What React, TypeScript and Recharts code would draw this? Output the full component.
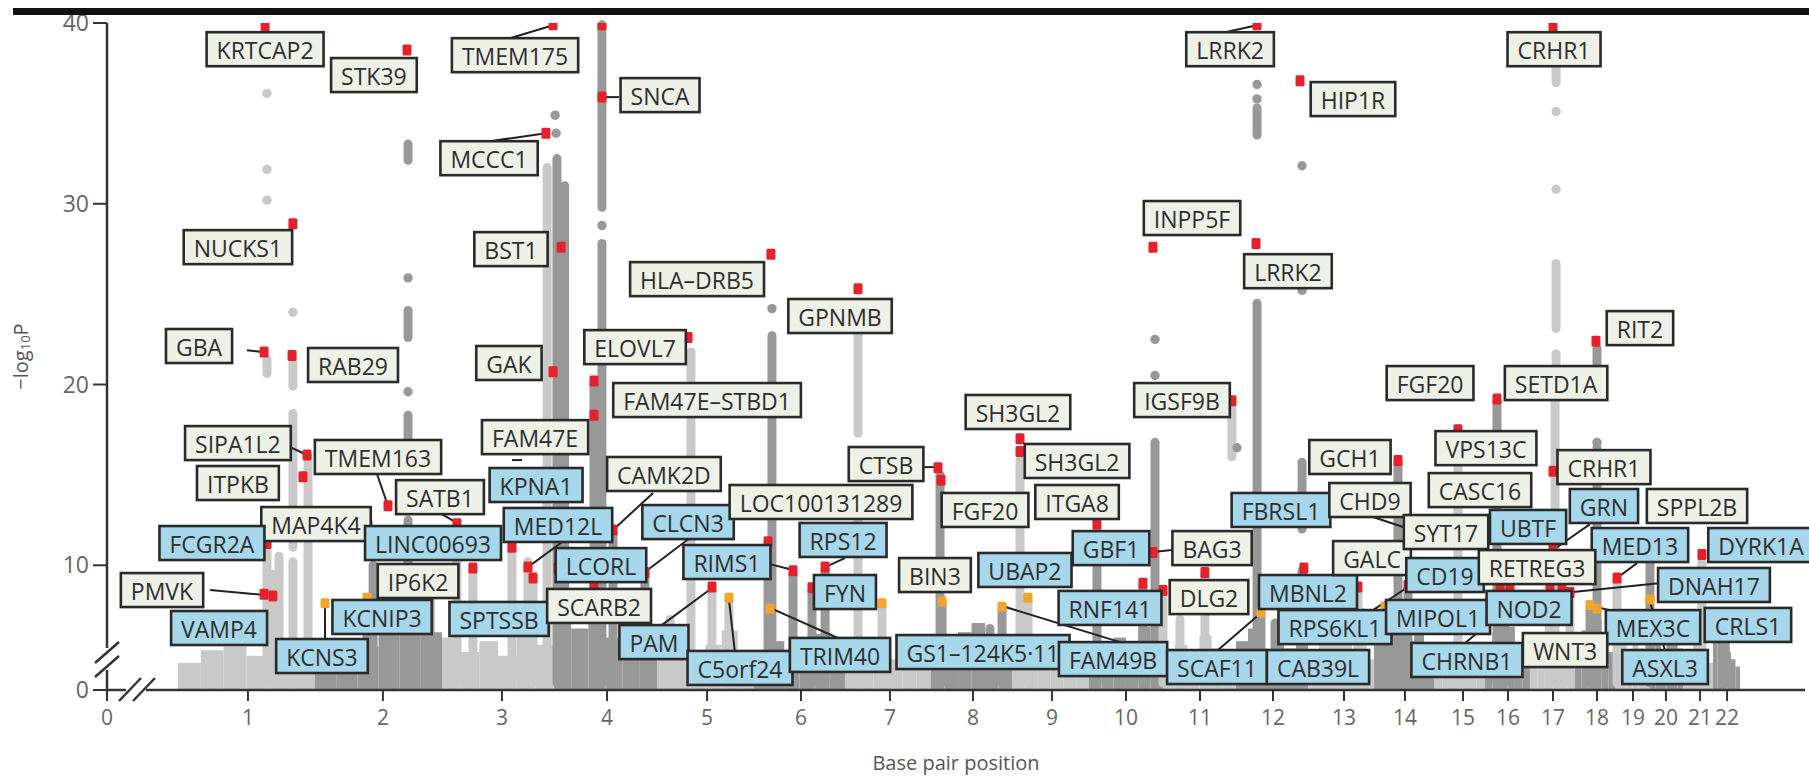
import React from 'react';
import { ScatterChart, Scatter, XAxis, YAxis, ReferenceArea, ReferenceLine } from 'recharts';

// ---------- DATA (x = relative genome position 0–1000, y = −log10 P display scale) ----------
const chromTickPos = [0, 83.0, 162.5, 232.6, 294.5, 353.4, 408.7, 461.1, 510.0, 556.5, 600.1, 643.7, 686.7, 728.5, 764.4, 798.6, 825.1, 851.6, 877.5, 898.7, 918.1, 938.2, 954.1];
const chromTickLabels = ['0', '1', '2', '3', '4', '5', '6', '7', '8', '9', '10', '11', '12', '13', '14', '15', '16', '17', '18', '19', '20', '21', '22'];
const chromBounds = [41.8, 122.5, 197.3, 263.3, 323.9, 381.0, 434.6, 485.3, 533.0, 578.3, 621.9, 664.9, 707.3, 746.2, 781.5, 811.5, 838.0, 864.5, 888.1, 908.7, 928.2, 945.8, 961.7];
const yTicks = [3.1, 10, 20, 30, 40];

// background mass of non-significant SNPs, per chromosome
const skylineHeights = [
  [4.6, 5.3, 5.5, 5.0, 5.6, 4.8],
  [4.4, 4.9, 5.5, 6.2, 6.5, 6.3],
  [6.0, 5.2, 5.8, 5.0, 6.3, 5.6],
  [7.0, 6.5, 7.2, 6.0, 6.8, 5.5],
  [5.3, 6.0, 4.8, 5.6, 6.4, 5.0],
  [5.0, 5.8, 4.6, 5.5, 6.2, 5.2],
  [4.6, 5.2, 5.9, 4.8, 5.4, 4.4],
  [4.5, 5.0, 6.3, 6.8, 5.6, 4.8],
  [5.2, 6.2, 4.6, 5.5, 4.9, 5.3],
  [5.4, 4.7, 6.0, 5.2, 6.6, 5.0],
  [4.8, 5.6, 5.0, 6.1, 5.4, 4.6],
  [5.8, 6.5, 5.2, 6.0, 5.4, 6.2],
  [4.2, 5.8, 6.6, 6.0, 5.3, 4.8],
  [6.8, 6.2, 6.6, 5.8, 6.4, 5.5],
  [4.5, 5.2, 4.9, 5.7, 5.0, 4.6],
  [5.5, 6.3, 5.8, 6.6, 5.2, 4.9],
  [5.0, 5.6, 6.8, 5.4, 4.8, 6.0],
  [5.8, 6.4, 5.5, 6.9, 6.0, 5.2],
  [4.8, 5.6, 5.2, 6.0, 5.4, 4.6],
  [5.6, 6.2, 5.0, 5.8, 6.3, 5.4],
  [4.4, 5.1, 5.9, 6.4, 5.0, 4.6],
  [6.0, 6.6, 5.8, 5.2, 4.8, 4.4],
];

// dense SNP columns at associated loci: [x, top, bottom]
const peakColumns = [
  [94.2, 21.4, 20.6], [94.2, 12.0, 3.5], [97.7, 9.5, 3.5], [101.3, 10.5, 3.5], [109.5, 21.2, 19.9], [109.5, 18.4, 11.0], [109.5, 10.2, 3.5], [118.4, 16.0, 3.5],
  [177.3, 33.3, 32.4], [177.3, 24.1, 22.6], [177.3, 18.3, 16.9], [177.3, 12.5, 3.5], [156.7, 10.0, 3.5], [206.1, 12.0, 3.5], [153.1, 8.0, 3.5], [190.2, 9.0, 3.5],
  [215.5, 9.8, 3.5], [238.5, 11.0, 3.5], [247.9, 10.2, 3.5], [250.9, 9.3, 3.5], [259.2, 32.0, 3.5],
  [265.0, 32.5, 3.5], [269.5, 31.0, 3.5], [291.5, 39.9, 29.8], [291.5, 27.8, 3.5], [286.8, 20.0, 3.5], [298.0, 11.9, 3.5], [316.8, 9.6, 3.5],
  [343.9, 21.8, 3.5], [356.3, 8.6, 3.5], [366.3, 7.8, 3.5], [331.6, 7.0, 3.5],
  [391.6, 22.7, 3.5], [389.3, 11.2, 3.5], [404.0, 9.5, 3.5], [415.2, 8.6, 3.5], [422.9, 9.8, 3.5],
  [442.3, 22.8, 17.3], [442.3, 14.0, 3.5], [456.4, 7.7, 3.5],
  [490.6, 15.0, 3.5], [491.8, 8.0, 3.5], [527.1, 7.5, 3.5], [520.0, 6.5, 3.5],
  [537.7, 15.8, 3.5], [542.4, 8.0, 3.5],
  [583.0, 12.0, 3.5], [617.2, 16.8, 3.5], [610.1, 8.8, 3.5],
  [662.5, 18.9, 16.0], [646.6, 9.4, 3.5], [621.9, 8.4, 3.5], [631.9, 7.0, 3.5],
  [677.3, 35.3, 33.8], [677.3, 24.5, 3.5], [703.8, 15.7, 12.0], [703.8, 9.7, 3.5], [679.6, 7.3, 3.5], [687.9, 6.8, 3.5],
  [736.7, 8.6, 3.5], [739.1, 7.4, 3.5],
  [760.3, 15.7, 3.5], [766.2, 8.7, 3.5], [752.7, 7.5, 3.5],
  [795.6, 17.5, 3.5],
  [818.6, 19.1, 16.5], [818.6, 14.0, 3.5], [823.0, 8.7, 3.5],
  [853.4, 37.5, 36.7], [853.4, 26.7, 23.1], [853.4, 21.7, 21.2], [852.8, 20.2, 3.5], [861.6, 8.4, 3.5],
  [877.5, 22.0, 20.8], [877.5, 16.5, 3.5], [873.4, 7.6, 3.5],
  [889.3, 9.2, 3.5], [908.7, 10.1, 3.5], [939.3, 10.2, 3.5], [953.0, 6.5, 3.5],
];

// isolated SNPs
const grayDots = [
  [94.2, 36.1], [94.2, 31.9], [94.2, 30.2], [109.5, 24.0], [177.3, 25.9], [177.3, 19.6], [263.9, 34.9], [264.5, 33.9],
  [291.5, 28.8], [391.6, 24.2], [617.2, 22.5], [617.2, 20.5], [677.3, 36.6], [677.3, 35.8], [703.8, 32.1], [703.8, 25.2],
  [853.4, 35.1], [853.4, 30.8], [665.5, 16.5], [877.5, 16.8],
];

// genome-wide significant hits (red)
const redHits = [
  [93.1, 39.8], [176.7, 38.5], [109.5, 28.9], [92.5, 21.8], [109.0, 21.6], [262.7, 39.9], [291.5, 35.9], [291.5, 39.9],
  [258.5, 33.9], [267.4, 27.6], [391.0, 27.2], [442.3, 25.3], [342.2, 22.6], [262.7, 20.7], [286.8, 20.2], [286.8, 18.3],
  [677.3, 39.9], [702.6, 36.8], [616.0, 27.6], [676.7, 27.8], [662.5, 19.1], [851.6, 39.8], [876.9, 22.4], [818.6, 19.2],
  [117.8, 16.1], [115.4, 14.9], [165.5, 13.3], [206.1, 12.3], [153.7, 12.2], [94.2, 11.2], [92.5, 8.4], [97.7, 8.3],
  [215.5, 9.85], [247.9, 9.9], [250.9, 9.3], [238.5, 11.0], [298.0, 11.95], [316.8, 9.6], [265.6, 9.85], [286.8, 8.9],
  [489.4, 15.4], [491.2, 14.7], [422.9, 9.9], [404.0, 9.7], [389.3, 11.3], [415.2, 8.75], [356.3, 8.8], [537.7, 17.0],
  [537.7, 16.3], [583.0, 12.3], [616.0, 10.7], [610.1, 9.0], [621.9, 8.6], [646.6, 9.6], [736.7, 8.8], [760.3, 15.8],
  [766.2, 8.9], [820.4, 8.85], [826.3, 8.85], [795.6, 17.5], [851.6, 11.0], [851.6, 15.2], [889.3, 9.3], [939.3, 10.6],
  [861.6, 8.5], [849.8, 8.8], [856.9, 8.8], [704.9, 9.85],
];

// suggestive hits (orange)
const orangeHits = [
  [128.4, 7.9], [153.1, 8.2], [366.3, 8.2], [390.5, 7.6], [456.4, 7.9], [491.8, 8.0], [542.4, 8.2], [527.1, 7.7],
  [679.6, 7.4], [752.7, 7.7], [873.4, 7.8], [877.5, 7.6], [908.7, 8.1],
];

// gene labels (novel = blue box); x, y = box centre
const geneLabels = [
  { name: 'KRTCAP2', novel: false, x: 93.1, y: 38.55 },
  { name: 'STK39', novel: false, x: 157.2, y: 37.12 },
  { name: 'NUCKS1', novel: false, x: 77.1, y: 27.6 },
  { name: 'GBA', novel: false, x: 54.2, y: 22.13 },
  { name: 'RAB29', novel: false, x: 144.9, y: 21.08 },
  { name: 'TMEM175', novel: false, x: 240.3, y: 38.22 },
  { name: 'SNCA', novel: false, x: 325.7, y: 36.01 },
  { name: 'MCCC1', novel: false, x: 225.0, y: 32.52 },
  { name: 'BST1', novel: false, x: 237.9, y: 27.49 },
  { name: 'HLA–DRB5', novel: false, x: 347.5, y: 25.83 },
  { name: 'GPNMB', novel: false, x: 431.7, y: 23.79 },
  { name: 'ELOVL7', novel: false, x: 311.0, y: 22.07 },
  { name: 'GAK', novel: false, x: 236.7, y: 21.19 },
  { name: 'LRRK2', novel: false, x: 661.4, y: 38.55 },
  { name: 'HIP1R', novel: false, x: 733.8, y: 35.79 },
  { name: 'INPP5F', novel: false, x: 639.0, y: 29.21 },
  { name: 'LRRK2', novel: false, x: 695.5, y: 26.27 },
  { name: 'IGSF9B', novel: false, x: 633.1, y: 19.14 },
  { name: 'CRHR1', novel: false, x: 852.2, y: 38.55 },
  { name: 'RIT2', novel: false, x: 902.8, y: 23.12 },
  { name: 'FGF20', novel: false, x: 779.2, y: 20.08 },
  { name: 'SETD1A', novel: false, x: 853.4, y: 20.08 },
  { name: 'SIPA1L2', novel: false, x: 77.1, y: 16.76 },
  { name: 'ITPKB', novel: false, x: 77.1, y: 14.55 },
  { name: 'TMEM163', novel: false, x: 159.6, y: 15.99 },
  { name: 'SATB1', novel: false, x: 196.1, y: 13.77 },
  { name: 'MAP4K4', novel: false, x: 123.1, y: 12.28 },
  { name: 'FCGR2A', novel: true, x: 61.8, y: 11.23 },
  { name: 'LINC00693', novel: true, x: 192.0, y: 11.23 },
  { name: 'PMVK', novel: false, x: 32.4, y: 8.63 },
  { name: 'IP6K2', novel: false, x: 183.2, y: 9.13 },
  { name: 'VAMP4', novel: true, x: 66.0, y: 6.53 },
  { name: 'KCNS3', novel: true, x: 126.6, y: 4.98 },
  { name: 'KCNIP3', novel: true, x: 162.0, y: 7.14 },
  { name: 'SPTSSB', novel: true, x: 230.9, y: 7.03 },
  { name: 'FAM47E–STBD1', novel: false, x: 353.4, y: 19.14 },
  { name: 'FAM47E', novel: false, x: 252.1, y: 17.09 },
  { name: 'KPNA1', novel: true, x: 252.7, y: 14.44 },
  { name: 'MED12L', novel: true, x: 265.6, y: 12.23 },
  { name: 'CAMK2D', novel: false, x: 328.0, y: 15.05 },
  { name: 'CLCN3', novel: true, x: 342.2, y: 12.39 },
  { name: 'LCORL', novel: true, x: 290.9, y: 10.01 },
  { name: 'SCARB2', novel: false, x: 289.8, y: 7.75 },
  { name: 'LOC100131289', novel: false, x: 420.5, y: 13.5 },
  { name: 'CTSB', novel: false, x: 458.8, y: 15.6 },
  { name: 'RPS12', novel: true, x: 433.5, y: 11.4 },
  { name: 'RIMS1', novel: true, x: 365.1, y: 10.18 },
  { name: 'FYN', novel: true, x: 434.6, y: 8.52 },
  { name: 'PAM', novel: true, x: 322.1, y: 5.75 },
  { name: 'C5orf24', novel: true, x: 372.8, y: 4.32 },
  { name: 'TRIM40', novel: true, x: 431.7, y: 5.04 },
  { name: 'SH3GL2', novel: false, x: 536.5, y: 18.48 },
  { name: 'SH3GL2', novel: false, x: 571.3, y: 15.77 },
  { name: 'FGF20', novel: false, x: 517.1, y: 13.06 },
  { name: 'ITGA8', novel: false, x: 571.3, y: 13.5 },
  { name: 'GBF1', novel: true, x: 591.3, y: 10.95 },
  { name: 'BAG3', novel: false, x: 650.8, y: 10.95 },
  { name: 'BIN3', novel: false, x: 487.6, y: 9.46 },
  { name: 'UBAP2', novel: true, x: 540.6, y: 9.74 },
  { name: 'RNF141', novel: true, x: 590.7, y: 7.64 },
  { name: 'DLG2', novel: false, x: 649.0, y: 8.24 },
  { name: 'GS1–124K5·11', novel: true, x: 515.9, y: 5.2 },
  { name: 'FAM49B', novel: true, x: 592.5, y: 4.81 },
  { name: 'SCAF11', novel: true, x: 653.7, y: 4.37 },
  { name: 'MBNL2', novel: true, x: 707.3, y: 8.52 },
  { name: 'FBRSL1', novel: true, x: 691.4, y: 13.06 },
  { name: 'CAB39L', novel: true, x: 713.2, y: 4.37 },
  { name: 'RPS6KL1', novel: true, x: 723.2, y: 6.58 },
  { name: 'GCH1', novel: false, x: 732.0, y: 15.99 },
  { name: 'CHD9', novel: false, x: 743.8, y: 13.61 },
  { name: 'GALC', novel: false, x: 745.0, y: 10.4 },
  { name: 'CD19', novel: true, x: 788.0, y: 9.46 },
  { name: 'MIPOL1', novel: true, x: 783.9, y: 7.14 },
  { name: 'CHRNB1', novel: true, x: 800.9, y: 4.76 },
  { name: 'NOD2', novel: true, x: 837.5, y: 7.64 },
  { name: 'SYT17', novel: false, x: 788.6, y: 11.84 },
  { name: 'VPS13C', novel: false, x: 812.1, y: 16.48 },
  { name: 'CASC16', novel: false, x: 808.6, y: 14.16 },
  { name: 'UBTF', novel: true, x: 836.9, y: 12.12 },
  { name: 'CRHR1', novel: false, x: 881.6, y: 15.43 },
  { name: 'GRN', novel: true, x: 881.6, y: 13.28 },
  { name: 'SPPL2B', novel: false, x: 936.4, y: 13.28 },
  { name: 'MED13', novel: true, x: 902.8, y: 11.12 },
  { name: 'RETREG3', novel: false, x: 842.2, y: 9.9 },
  { name: 'DYRK1A', novel: true, x: 974.1, y: 11.12 },
  { name: 'DNAH17', novel: true, x: 946.4, y: 8.91 },
  { name: 'MEX3C', novel: true, x: 910.5, y: 6.58 },
  { name: 'ASXL3', novel: true, x: 917.6, y: 4.37 },
  { name: 'CRLS1', novel: true, x: 966.4, y: 6.7 },
  { name: 'WNT3', novel: false, x: 858.7, y: 5.31 },
];

// leader lines: [x1, y1, x2, y2]
const leaders = [
  [82.4, 21.9, 91.3, 21.8], [237.3, 39.16, 262.7, 39.88], [301.5, 35.9, 291.5, 35.9], [225.6, 33.46, 258.5, 33.9],
  [658.4, 39.49, 677.3, 39.88], [105.4, 16.65, 117.8, 16.1], [159.0, 15.05, 165.5, 13.28], [196.1, 12.89, 206.1, 12.34],
  [60.7, 8.63, 93.1, 8.35], [128.4, 5.92, 128.4, 7.8], [321.6, 14.0, 298.0, 11.95], [343.3, 11.51, 316.8, 9.63],
  [268.0, 11.29, 247.9, 9.9], [388.1, 10.12, 404.0, 9.74], [434.6, 10.4, 422.9, 9.9], [326.9, 6.7, 356.3, 8.74],
  [369.8, 5.2, 366.3, 8.08], [431.7, 5.92, 390.5, 7.64], [478.8, 15.43, 489.4, 15.43], [627.2, 10.84, 616.0, 10.73],
  [596.6, 5.75, 527.1, 7.75], [654.3, 5.31, 679.6, 7.36], [745.6, 7.52, 766.2, 8.8], [799.8, 5.7, 812.7, 6.7],
  [745.6, 12.67, 763.3, 12.12], [873.4, 12.28, 853.9, 11.0], [901.1, 10.12, 889.3, 9.3], [915.2, 9.02, 863.4, 8.52],
  [884.6, 7.52, 877.5, 7.69], [917.5, 5.31, 908.7, 7.97], [238.5, 15.82, 244.4, 15.82],
];

// ---------- STYLE ----------
const FONT = "'Open Sans', 'Noto Sans', sans-serif";
const LIGHT = '#c9c9c9';
const DARK = '#989898';
const RED = '#e5222b';
const ORANGE = '#f2a42c';
const KNOWN_FILL = '#eef2e6';
const NOVEL_FILL = '#a7d7ea';
const LABEL_FS = 23;
const Y_MIN = 3.1;

function chromIndex(x: number) {
  for (let i = 0; i < chromBounds.length - 1; i++) if (x < chromBounds[i + 1]) return i;
  return chromBounds.length - 2;
}
const shadeAt = (x: number) => (chromIndex(x) % 2 === 0 ? LIGHT : DARK);

let measureCtx: CanvasRenderingContext2D | null = null;
function textWidth(s: string) {
  if (!measureCtx && typeof document !== 'undefined') {
    measureCtx = document.createElement('canvas').getContext('2d');
  }
  if (measureCtx) {
    measureCtx.font = `${LABEL_FS}px 'Open Sans'`;
    return measureCtx.measureText(s).width;
  }
  return s.length * 14;
}

const skylineBlocks: { x1: number; x2: number; h: number; fill: string }[] = [];
skylineHeights.forEach((hs, c) => {
  const w = (chromBounds[c + 1] - chromBounds[c]) / hs.length;
  hs.forEach((h, k) => {
    skylineBlocks.push({ x1: chromBounds[c] + k * w, x2: chromBounds[c] + (k + 1) * w, h, fill: c % 2 === 0 ? LIGHT : DARK });
  });
});

const grayData = grayDots.map(([x, y]) => ({ x, y }));
const redData = redHits.map(([x, y]) => ({ x, y }));
const orangeData = orangeHits.map(([x, y]) => ({ x, y }));

const GrayShape = (p: any) => <circle cx={p.cx} cy={p.cy} r={4.7} fill={shadeAt(p.payload.x)} />;
const RedShape = (p: any) => <rect x={p.cx - 4.5} y={p.cy - 5.5} width={9} height={11} rx={1.5} fill={RED} />;
const OrangeShape = (p: any) => <rect x={p.cx - 4.5} y={p.cy - 5} width={9} height={10} rx={1.5} fill={ORANGE} />;
const LabelShape = (p: any) => {
  const d = p.payload;
  const w = textWidth(d.name) + 20;
  const h = 34;
  return (
    <g>
      <rect x={p.cx - w / 2} y={p.cy - h / 2} width={w} height={h} fill={d.novel ? NOVEL_FILL : KNOWN_FILL} stroke="#2a2a2a" strokeWidth={2.6} />
      <text x={p.cx} y={p.cy + 1} textAnchor="middle" dominantBaseline="central" fontSize={LABEL_FS} fill="#2e2e2e" fontFamily={FONT}>
        {d.name}
      </text>
    </g>
  );
};

const YLabel = (props: any) => {
  const vb = props.viewBox || { x: 0, y: 23, width: 107, height: 667 };
  const cx = vb.x + 20;
  const cy = vb.y + vb.height / 2;
  return (
    <text x={cx} y={cy} transform={`rotate(-90 ${cx} ${cy})`} textAnchor="middle" dominantBaseline="central" fontSize={20} fill="#555" fontFamily={FONT}>
      −log<tspan dy={5} fontSize={13}>10</tspan><tspan dy={-5}>P</tspan>
    </text>
  );
};

export default function App() {
  return (
    <div style={{ position: 'absolute', left: 0, top: 0, width: 1809, height: 776, background: '#fff' }}>
      <ScatterChart width={1809} height={776} margin={{ top: 23, right: 4, bottom: 0, left: 0 }} style={{ fontFamily: FONT }}>
        <XAxis
          type="number"
          dataKey="x"
          domain={[0, 1000]}
          ticks={chromTickPos}
          interval={0}
          tickFormatter={(v: number) => chromTickLabels[chromTickPos.indexOf(v)] ?? ''}
          height={86}
          tickSize={11}
          tickMargin={9}
          axisLine={{ stroke: '#333', strokeWidth: 2.5 }}
          tickLine={{ stroke: '#333', strokeWidth: 2 }}
          tick={{ fill: '#666', fontSize: 21, fontFamily: FONT }}
          label={{ value: 'Base pair position', position: 'insideBottom', offset: 6, fill: '#555', fontSize: 20, fontFamily: FONT }}
        />
        <YAxis
          type="number"
          dataKey="y"
          domain={[Y_MIN, 40]}
          allowDataOverflow
          ticks={yTicks}
          interval={0}
          tickFormatter={(v: number) => (v < 5 ? '0' : String(v))}
          width={107}
          tickSize={14}
          tickMargin={4}
          axisLine={{ stroke: '#333', strokeWidth: 2.5 }}
          tickLine={{ stroke: '#333', strokeWidth: 2 }}
          tick={{ fill: '#666', fontSize: 23, fontFamily: FONT }}
          label={<YLabel />}
        />
        {skylineBlocks.map((b, i) => (
          <ReferenceArea key={`s${i}`} x1={b.x1} x2={b.x2} y1={Y_MIN} y2={b.h} fill={b.fill} fillOpacity={1} stroke="none" />
        ))}
        {peakColumns.map(([x, top, bottom], i) => (
          <ReferenceLine
            key={`c${i}`}
            segment={[{ x, y: bottom }, { x, y: top }]}
            stroke={shadeAt(x)}
            strokeWidth={9}
            strokeLinecap="round"
          />
        ))}
        <Scatter data={grayData} shape={GrayShape} isAnimationActive={false} />
        <Scatter data={orangeData} shape={OrangeShape} isAnimationActive={false} />
        <Scatter data={redData} shape={RedShape} isAnimationActive={false} />
        {leaders.map(([x1, y1, x2, y2], i) => (
          <ReferenceLine key={`l${i}`} segment={[{ x: x1, y: y1 }, { x: x2, y: y2 }]} stroke="#222" strokeWidth={2} />
        ))}
        <Scatter data={geneLabels} shape={LabelShape} isAnimationActive={false} />
      </ScatterChart>
      <svg width={1809} height={776} style={{ position: 'absolute', left: 0, top: 0, pointerEvents: 'none' }}>
        <rect x={13} y={8} width={1796} height={7} fill="#111" />
        <rect x={99} y={648} width={16} height={22} fill="#fff" />
        <line x1={95} y1={663} x2={119} y2={642} stroke="#333" strokeWidth={2.5} />
        <line x1={95} y1={677} x2={119} y2={656} stroke="#333" strokeWidth={2.5} />
        <rect x={126} y={684} width={20} height={12} fill="#fff" />
        <line x1={119} y1={701} x2={141} y2={678} stroke="#333" strokeWidth={2.5} />
        <line x1={133} y1={701} x2={155} y2={678} stroke="#333" strokeWidth={2.5} />
      </svg>
    </div>
  );
}
